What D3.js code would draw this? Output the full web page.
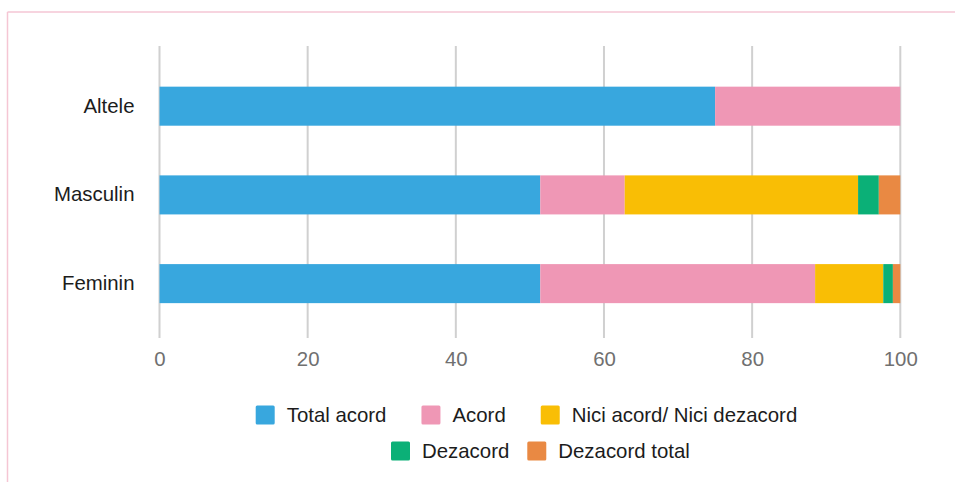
<!DOCTYPE html>
<html>
<head>
<meta charset="utf-8">
<script src="https://cdn.jsdelivr.net/npm/d3@7"></script>
<style>
  html, body { margin: 0; padding: 0; background: #ffffff; }
  svg { display: block; font-family: "Liberation Sans", Arial, Helvetica, sans-serif; }
</style>
</head>
<body>
<svg id="chart" width="955" height="482"></svg>
<script>
// Survey answers by group (percent of respondents)
const categories = ["Altele", "Masculin", "Feminin"];
const seriesNames = ["Total acord", "Acord", "Nici acord/ Nici dezacord", "Dezacord", "Dezacord total"];
const totalAcord   = [75.0, 51.4, 51.4];
const acord        = [25.0, 11.4, 37.1];
const niciNici     = [0.0, 31.5, 9.2];
const dezacord     = [0.0, 2.8, 1.3];
const dezacordTot  = [0.0, 2.9, 1.0];
const xTicks = [0, 20, 40, 60, 80, 100];

const colors = ["#38a7de", "#ef97b5", "#f9be05", "#0bb077", "#e98943"];
const seriesValues = [totalAcord, acord, niciNici, dezacord, dezacordTot];

const rows = categories.map((c, i) => {
  const r = { category: c };
  seriesNames.forEach((s, k) => { r[s] = seriesValues[k][i]; });
  return r;
});

const svg = d3.select("#chart");
const fontSize = 20.4;

// Frame lines (top and left)
svg.append("line").attr("x1", 7.5).attr("x2", 955).attr("y1", 12).attr("y2", 12)
  .attr("stroke", "#f5c6d4").attr("stroke-width", 1.5);
svg.append("line").attr("x1", 7.5).attr("x2", 7.5).attr("y1", 12).attr("y2", 482)
  .attr("stroke", "#f5c6d4").attr("stroke-width", 1.5);

const x = d3.scaleLinear().domain([0, 100]).range([159.5, 900.3]);
const y = d3.scaleBand().domain(categories).range([42.3, 347.5])
  .paddingInner(0.56).paddingOuter(0.5);

// Vertical gridlines
svg.append("g").selectAll("line").data(xTicks).join("line")
  .attr("x1", d => x(d)).attr("x2", d => x(d))
  .attr("y1", 46).attr("y2", 338)
  .attr("stroke", "#d0d0d0").attr("stroke-width", 2);

// Stacked bars
const stack = d3.stack().keys(seriesNames);
const layers = stack(rows);
svg.append("g").selectAll("g").data(layers).join("g")
  .attr("fill", (d, i) => colors[i])
  .selectAll("rect").data(d => d).join("rect")
  .attr("x", d => x(d[0]))
  .attr("width", d => Math.max(0, x(d[1]) - x(d[0])))
  .attr("y", d => y(d.data.category))
  .attr("height", y.bandwidth());

// X axis labels
const xAxis = d3.axisBottom(x).tickValues(xTicks).tickSize(0).tickPadding(0);
const gx = svg.append("g").attr("transform", "translate(0,352)").call(xAxis);
gx.select(".domain").remove();
gx.selectAll("text")
  .attr("font-size", fontSize).attr("fill", "#707070")
  .attr("font-family", "\"Liberation Sans\", Arial, sans-serif");

// Y axis labels
const yAxis = d3.axisLeft(y).tickSize(0).tickPadding(0);
const gy = svg.append("g").attr("transform", "translate(134.5,0)").call(yAxis);
gy.select(".domain").remove();
gy.selectAll("text")
  .attr("font-size", fontSize).attr("fill", "#1c1c1c")
  .attr("font-family", "\"Liberation Sans\", Arial, sans-serif");

// Legend in two centred rows
const legendRows = [
  { items: [0, 1, 2], x0: 255.7, gap: 35, cy: 415 },
  { items: [3, 4], x0: 391, gap: 18, cy: 451 }
];
const sw = 19, textGap = 12;
const legend = svg.append("g");
legendRows.forEach(row => {
  let cx = row.x0;
  row.items.forEach(k => {
    const g = legend.append("g").attr("transform", `translate(${cx},${row.cy})`);
    g.append("rect").attr("x", 0).attr("y", -sw / 2).attr("width", sw).attr("height", sw)
      .attr("rx", 1.5).attr("fill", colors[k]);
    const t = g.append("text").attr("x", sw + textGap).attr("y", 0).attr("dy", "0.35em")
      .attr("font-size", fontSize).attr("fill", "#1c1c1c").text(seriesNames[k]);
    cx += sw + textGap + t.node().getComputedTextLength() + row.gap;
  });
});
</script>
</body>
</html>
